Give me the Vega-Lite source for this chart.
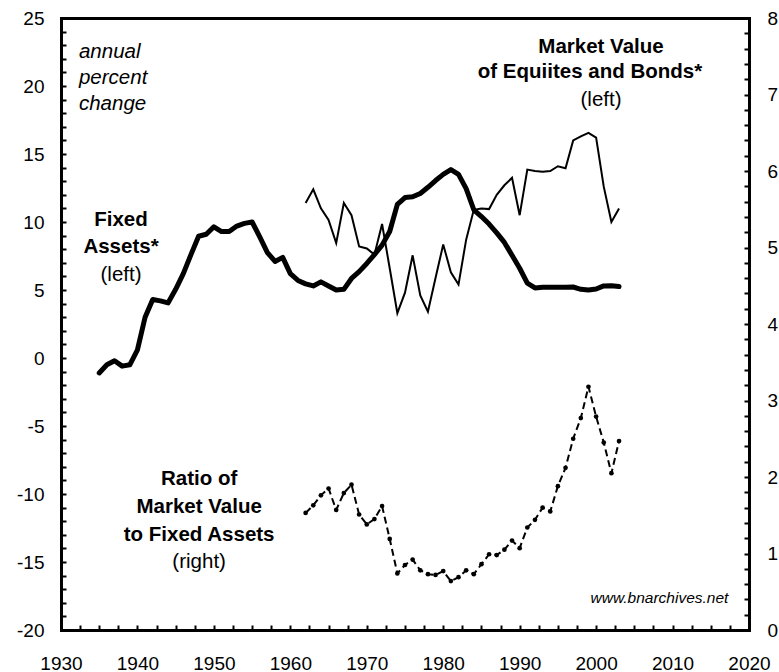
{
  "$schema": "https://vega.github.io/schema/vega-lite/v6.json",
  "width": 688,
  "height": 612,
  "autosize": "none",
  "padding": {"left": 61, "top": 18, "right": 30, "bottom": 42},
  "background": "white",
  "config": {
    "view": {"stroke": null},
    "axis": {
      "domain": true,
      "domainColor": "black",
      "domainWidth": 3,
      "domainCap": "square",
      "grid": false,
      "labelFont": "Liberation Sans",
      "labelFontSize": 19,
      "labelColor": "black",
      "labelOverlap": false,
      "labelFlush": false
    }
  },
  "datasets": {
    "fixed": [
      {"year": 1935, "v": -1.1}, {"year": 1936, "v": -0.5}, {"year": 1937, "v": -0.2}, {"year": 1938, "v": -0.6},
      {"year": 1939, "v": -0.5}, {"year": 1940, "v": 0.6}, {"year": 1941, "v": 3.0}, {"year": 1942, "v": 4.3},
      {"year": 1943, "v": 4.2}, {"year": 1944, "v": 4.05}, {"year": 1945, "v": 5.05}, {"year": 1946, "v": 6.2},
      {"year": 1947, "v": 7.6}, {"year": 1948, "v": 8.95}, {"year": 1949, "v": 9.1}, {"year": 1950, "v": 9.65},
      {"year": 1951, "v": 9.3}, {"year": 1952, "v": 9.3}, {"year": 1953, "v": 9.7}, {"year": 1954, "v": 9.9},
      {"year": 1955, "v": 10.0}, {"year": 1956, "v": 8.9}, {"year": 1957, "v": 7.75}, {"year": 1958, "v": 7.1},
      {"year": 1959, "v": 7.4}, {"year": 1960, "v": 6.2}, {"year": 1961, "v": 5.7}, {"year": 1962, "v": 5.45},
      {"year": 1963, "v": 5.3}, {"year": 1964, "v": 5.6}, {"year": 1965, "v": 5.3}, {"year": 1966, "v": 5.0},
      {"year": 1967, "v": 5.05}, {"year": 1968, "v": 5.85}, {"year": 1969, "v": 6.35}, {"year": 1970, "v": 6.95},
      {"year": 1971, "v": 7.6}, {"year": 1972, "v": 8.3}, {"year": 1973, "v": 9.3}, {"year": 1974, "v": 11.3},
      {"year": 1975, "v": 11.8}, {"year": 1976, "v": 11.85}, {"year": 1977, "v": 12.1}, {"year": 1978, "v": 12.55},
      {"year": 1979, "v": 13.05}, {"year": 1980, "v": 13.5}, {"year": 1981, "v": 13.85}, {"year": 1982, "v": 13.5},
      {"year": 1983, "v": 12.45}, {"year": 1984, "v": 10.9}, {"year": 1985, "v": 10.4}, {"year": 1986, "v": 9.85},
      {"year": 1987, "v": 9.2}, {"year": 1988, "v": 8.5}, {"year": 1989, "v": 7.55}, {"year": 1990, "v": 6.6},
      {"year": 1991, "v": 5.5}, {"year": 1992, "v": 5.15}, {"year": 1993, "v": 5.2}, {"year": 1994, "v": 5.2},
      {"year": 1995, "v": 5.2}, {"year": 1996, "v": 5.2}, {"year": 1997, "v": 5.22}, {"year": 1998, "v": 5.05},
      {"year": 1999, "v": 5.0}, {"year": 2000, "v": 5.07}, {"year": 2001, "v": 5.3}, {"year": 2002, "v": 5.32},
      {"year": 2003, "v": 5.25}
    ],
    "market": [
      {"year": 1962, "v": 11.4}, {"year": 1963, "v": 12.4}, {"year": 1964, "v": 11.0}, {"year": 1965, "v": 10.15},
      {"year": 1966, "v": 8.45}, {"year": 1967, "v": 11.4}, {"year": 1968, "v": 10.5}, {"year": 1969, "v": 8.2},
      {"year": 1970, "v": 8.05}, {"year": 1971, "v": 7.6}, {"year": 1972, "v": 9.85}, {"year": 1973, "v": 6.6},
      {"year": 1974, "v": 3.3}, {"year": 1975, "v": 4.8}, {"year": 1976, "v": 7.55}, {"year": 1977, "v": 4.6},
      {"year": 1978, "v": 3.4}, {"year": 1979, "v": 5.9}, {"year": 1980, "v": 8.35}, {"year": 1981, "v": 6.3},
      {"year": 1982, "v": 5.4}, {"year": 1983, "v": 8.7}, {"year": 1984, "v": 10.9}, {"year": 1985, "v": 11.0},
      {"year": 1986, "v": 10.95}, {"year": 1987, "v": 12.0}, {"year": 1988, "v": 12.7}, {"year": 1989, "v": 13.25},
      {"year": 1990, "v": 10.5}, {"year": 1991, "v": 13.85}, {"year": 1992, "v": 13.75}, {"year": 1993, "v": 13.7},
      {"year": 1994, "v": 13.75}, {"year": 1995, "v": 14.1}, {"year": 1996, "v": 13.95}, {"year": 1997, "v": 16.0},
      {"year": 1998, "v": 16.3}, {"year": 1999, "v": 16.55}, {"year": 2000, "v": 16.2}, {"year": 2001, "v": 12.6},
      {"year": 2002, "v": 10.0}, {"year": 2003, "v": 11.0}
    ],
    "ratio": [
      {"year": 1962, "r": 1.53}, {"year": 1963, "r": 1.63}, {"year": 1964, "r": 1.76}, {"year": 1965, "r": 1.85},
      {"year": 1966, "r": 1.57}, {"year": 1967, "r": 1.79}, {"year": 1968, "r": 1.90}, {"year": 1969, "r": 1.51},
      {"year": 1970, "r": 1.38}, {"year": 1971, "r": 1.45}, {"year": 1972, "r": 1.62}, {"year": 1973, "r": 1.19},
      {"year": 1974, "r": 0.74}, {"year": 1975, "r": 0.85}, {"year": 1976, "r": 0.92}, {"year": 1977, "r": 0.78},
      {"year": 1978, "r": 0.73}, {"year": 1979, "r": 0.72}, {"year": 1980, "r": 0.77}, {"year": 1981, "r": 0.64},
      {"year": 1982, "r": 0.69}, {"year": 1983, "r": 0.78}, {"year": 1984, "r": 0.73}, {"year": 1985, "r": 0.86},
      {"year": 1986, "r": 0.99}, {"year": 1987, "r": 0.98}, {"year": 1988, "r": 1.05}, {"year": 1989, "r": 1.17},
      {"year": 1990, "r": 1.07}, {"year": 1991, "r": 1.34}, {"year": 1992, "r": 1.44}, {"year": 1993, "r": 1.60},
      {"year": 1994, "r": 1.55}, {"year": 1995, "r": 1.88}, {"year": 1996, "r": 2.12}, {"year": 1997, "r": 2.50},
      {"year": 1998, "r": 2.77}, {"year": 1999, "r": 3.18}, {"year": 2000, "r": 2.79}, {"year": 2001, "r": 2.45},
      {"year": 2002, "r": 2.05}, {"year": 2003, "r": 2.47}
    ],
    "labels": [
      {"year": 1932.35, "v": 22.06, "text": "annual", "kind": "italic"},
      {"year": 1932.35, "v": 20.15, "text": "percent", "kind": "italic"},
      {"year": 1932.35, "v": 18.24, "text": "change", "kind": "italic"},
      {"year": 1937.85, "v": 9.73, "text": "Fixed", "kind": "bold"},
      {"year": 1937.85, "v": 7.7, "text": "Assets*", "kind": "bold"},
      {"year": 1937.85, "v": 5.66, "text": "(left)", "kind": "regular"},
      {"year": 2000.64, "v": 22.4, "text": "Market Value", "kind": "bold"},
      {"year": 1999.2, "v": 20.57, "text": "of Equiites and Bonds*", "kind": "bold"},
      {"year": 2000.64, "v": 18.53, "text": "(left)", "kind": "regular"},
      {"year": 1948.07, "v": -9.34, "text": "Ratio of", "kind": "bold"},
      {"year": 1948.07, "v": -11.37, "text": "Market Value", "kind": "bold"},
      {"year": 1948.07, "v": -13.43, "text": "to Fixed Assets", "kind": "bold"},
      {"year": 1948.07, "v": -15.44, "text": "(right)", "kind": "regular"},
      {"year": 2017.3, "v": -18.04, "text": "www.bnarchives.net", "kind": "small"}
    ]
  },
  "layer": [
    {
      "encoding": {
        "x": {
          "field": "year", "type": "quantitative",
          "scale": {"domain": [1930, 2020], "nice": false, "zero": false},
          "axis": {
            "title": null,
            "orient": "bottom",
            "ticks": true,
            "zindex": 1,
            "tickSize": -5,
            "tickWidth": 2,
            "tickColor": "black",
            "values": [1930, 1932.5, 1935, 1937.5, 1940, 1942.5, 1945, 1947.5, 1950, 1952.5, 1955, 1957.5, 1960, 1962.5, 1965, 1967.5, 1970, 1972.5, 1975, 1977.5, 1980, 1982.5, 1985, 1987.5, 1990, 1992.5, 1995, 1997.5, 2000, 2002.5, 2005, 2007.5, 2010, 2012.5, 2015, 2017.5, 2020],
            "labelExpr": "datum.value % 10 === 0 ? '' + datum.value : ''",
            "labelPadding": 29
          }
        },
        "y": {
          "field": "v", "type": "quantitative",
          "scale": {"domain": [-20, 25], "nice": false, "zero": false},
          "axis": {
            "title": null,
            "orient": "left",
            "ticks": true,
            "zindex": 1,
            "tickSize": -5,
            "tickWidth": 2,
            "tickColor": "black",
            "values": [-20, -19, -18, -17, -16, -15, -14, -13, -12, -11, -10, -9, -8, -7, -6, -5, -4, -3, -2, -1, 0, 1, 2, 3, 4, 5, 6, 7, 8, 9, 10, 11, 12, 13, 14, 15, 16, 17, 18, 19, 20, 21, 22, 23, 24, 25],
            "labelExpr": "datum.value % 5 === 0 ? '' + datum.value : ''",
            "labelPadding": 22
          }
        }
      },
      "layer": [
        {
          "data": {"name": "fixed"},
          "mark": {"type": "line", "color": "black", "strokeWidth": 5, "strokeJoin": "round", "strokeCap": "round"}
        },
        {
          "data": {"name": "market"},
          "mark": {"type": "line", "color": "black", "strokeWidth": 2, "strokeJoin": "miter"}
        },
        {
          "data": {"name": "labels"},
          "transform": [{"filter": "datum.kind === 'bold'"}],
          "mark": {"type": "text", "font": "Liberation Sans", "fontWeight": "bold", "fontSize": 20.5, "align": "center", "baseline": "alphabetic", "color": "black"},
          "encoding": {"text": {"field": "text"}}
        },
        {
          "data": {"name": "labels"},
          "transform": [{"filter": "datum.kind === 'regular'"}],
          "mark": {"type": "text", "font": "Liberation Sans", "fontSize": 20.5, "align": "center", "baseline": "alphabetic", "color": "black"},
          "encoding": {"text": {"field": "text"}}
        },
        {
          "data": {"name": "labels"},
          "transform": [{"filter": "datum.kind === 'italic'"}],
          "mark": {"type": "text", "font": "Liberation Sans", "fontStyle": "italic", "fontSize": 20.5, "align": "left", "baseline": "alphabetic", "color": "black"},
          "encoding": {"text": {"field": "text"}}
        },
        {
          "data": {"name": "labels"},
          "transform": [{"filter": "datum.kind === 'small'"}],
          "mark": {"type": "text", "font": "Liberation Sans", "fontStyle": "italic", "fontSize": 15.5, "align": "right", "baseline": "alphabetic", "color": "black"},
          "encoding": {"text": {"field": "text"}}
        }
      ]
    },
    {
      "data": {"name": "ratio"},
      "encoding": {
        "x": {
          "field": "year", "type": "quantitative",
          "scale": {"domain": [1930, 2020], "nice": false, "zero": false},
          "axis": {
            "title": null,
            "orient": "top",
            "ticks": false,
            "labels": false,
            "domain": true
          }
        },
        "y": {
          "field": "r", "type": "quantitative",
          "scale": {"domain": [0, 8], "nice": false, "zero": false},
          "axis": {
            "title": null,
            "orient": "right",
            "ticks": true,
            "zindex": 1,
            "tickSize": -5,
            "tickWidth": 2,
            "tickColor": "black",
            "values": [0, 0.2, 0.4, 0.6, 0.8, 1, 1.2, 1.4, 1.6, 1.8, 2, 2.2, 2.4, 2.6, 2.8, 3, 3.2, 3.4, 3.6, 3.8, 4, 4.2, 4.4, 4.6, 4.8, 5, 5.2, 5.4, 5.6, 5.8, 6, 6.2, 6.4, 6.6, 6.8, 7, 7.2, 7.4, 7.6, 7.8, 8],
            "labelExpr": "abs(datum.value - round(datum.value)) < 0.01 ? '' + round(datum.value) : ''",
            "labelPadding": 23
          }
        }
      },
      "layer": [
        {
          "mark": {"type": "line", "color": "black", "strokeWidth": 2, "strokeDash": [7, 4]}
        },
        {
          "mark": {"type": "point", "filled": true, "color": "black", "opacity": 1, "size": 22}
        }
      ]
    }
  ],
  "resolve": {"scale": {"y": "independent"}, "axis": {"x": "independent"}}
}
